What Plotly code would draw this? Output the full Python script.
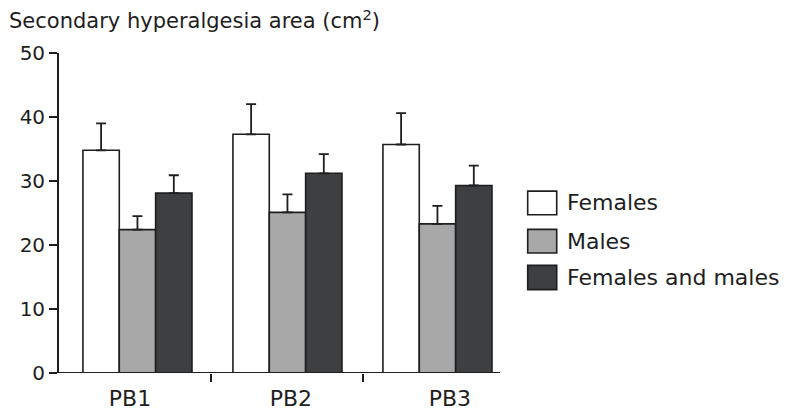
import plotly.graph_objects as go

categories = ["PB1", "PB2", "PB3"]
series_names = ["Females", "Males", "Females and males"]
females = [34.8, 37.3, 35.7]
females_err = [4.2, 4.7, 4.9]
males = [22.4, 25.1, 23.3]
males_err = [2.1, 2.8, 2.8]
combined = [28.1, 31.2, 29.3]
combined_err = [2.8, 3.0, 3.1]
y_ticks = [0, 10, 20, 30, 40, 50]

colors = ["#ffffff", "#a8a8a8", "#3e3f41"]
values = [females, males, combined]
errors = [females_err, males_err, combined_err]

FONT = "DejaVu Sans, Liberation Sans, Arial, sans-serif"
INK = "#1e1e1e"

x_pos = list(range(len(categories)))

fig = go.Figure()
for name, vals, errs, col in zip(series_names, values, errors, colors):
    fig.add_trace(go.Bar(
        x=x_pos, y=vals, name=name,
        marker=dict(color=col, line=dict(color=INK, width=1.6)),
        error_y=dict(type="data", array=errs, arrayminus=[0] * len(errs),
                     symmetric=False, color=INK, thickness=1.8, width=5),
        showlegend=False,
    ))

# custom legend (large swatches like the reference)
leg_y = [(0.4947, 0.5684), (0.3749, 0.4488), (0.2605, 0.3363)]
for (y0, y1), name, col in zip(leg_y, series_names, colors):
    fig.add_shape(type="rect", xref="paper", yref="paper",
                  x0=1.0628, x1=1.1286, y0=y0, y1=y1,
                  fillcolor=col, line=dict(color=INK, width=1.6))
    fig.add_annotation(xref="paper", yref="paper", x=1.1474, y=(y0 + y1) / 2,
                       text=name, showarrow=False, xanchor="left", yanchor="middle",
                       font=dict(family=FONT, size=22, color=INK))

fig.update_layout(
    width=786, height=417,
    margin=dict(l=59, r=286, t=52.5, b=44.3, pad=0, autoexpand=False),
    paper_bgcolor="white", plot_bgcolor="white",
    barmode="group", bargap=0.273, bargroupgap=0.0,
    font=dict(family=FONT, size=20, color=INK),
    title=dict(text="Secondary hyperalgesia area (cm<sup>2</sup>)",
               x=9 / 786, xanchor="left", xref="container",
               y=1 - 21 / 417, yanchor="middle", yref="container",
               font=dict(family=FONT, size=21, color=INK)),
    xaxis=dict(range=[-0.523, 2.417], showgrid=False, zeroline=False,
               showline=False, automargin=False,
               tickmode="array", tickvals=[-0.05, 1.023, 2.083], ticktext=categories,
               ticks="", tickfont=dict(size=22), ticklabelstandoff=10,
               minor=dict(tickmode="array", tickvals=[0.49, 1.503], ticks="outside",
                          ticklen=8, tickwidth=1.8, tickcolor=INK)),
    yaxis=dict(range=[0, 50], tickvals=y_ticks, showgrid=False, zeroline=False,
               showline=True, linecolor=INK, linewidth=1.8, automargin=False,
               ticks="outside", ticklen=8, tickwidth=1.8, tickcolor=INK,
               tickfont=dict(size=20)),
)
# baseline axis line along y=0 (x axis)
fig.add_shape(type="line", xref="paper", yref="y", x0=0, x1=1, y0=0, y1=0,
              line=dict(color=INK, width=1.8))

fig.write_html("out.html", config={"displayModeBar": False},
               post_script="document.body.style.margin='0';document.body.style.overflow='hidden';")
